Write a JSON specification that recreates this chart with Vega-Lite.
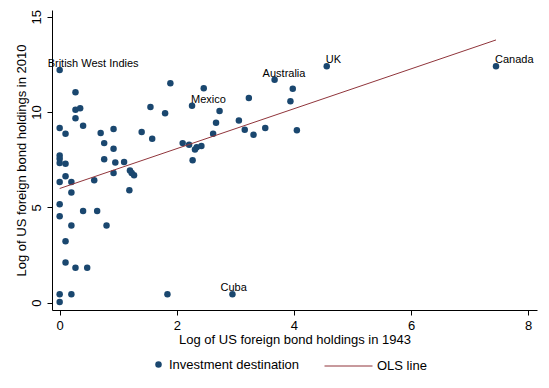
{
  "$schema": "https://vega.github.io/schema/vega-lite/v6.json",
  "width": 485,
  "height": 300,
  "autosize": {"type": "none"},
  "padding": {"left": 52, "top": 10, "right": 12, "bottom": 78},
  "background": "white",
  "config": {
    "view": {"stroke": null},
    "font": "Liberation Sans",
    "axis": {
      "domainColor": "black", "tickColor": "black", "labelColor": "black", "titleColor": "black",
      "grid": false, "tickSize": 5, "domainWidth": 1, "tickWidth": 1,
      "labelFontSize": 13, "titleFontSize": 13, "titleFontWeight": "normal", "labelFont": "Liberation Sans", "titleFont": "Liberation Sans"
    },
    "legend": {"labelFont": "Liberation Sans", "labelFontSize": 13, "labelColor": "black", "labelOffset": 4, "columnPadding": 22, "labelLimit": 400}
  },
  "datasets": {
    "points": [
      {"x": 0.00, "y": 12.21, "label": "British West Indies"},
      {"x": 1.89, "y": 11.51, "label": ""},
      {"x": 2.46, "y": 11.25, "label": ""},
      {"x": 0.27, "y": 11.04, "label": ""},
      {"x": 0.27, "y": 10.12, "label": ""},
      {"x": 0.35, "y": 10.20, "label": ""},
      {"x": 1.55, "y": 10.26, "label": ""},
      {"x": 2.26, "y": 10.33, "label": "Mexico"},
      {"x": 3.23, "y": 10.73, "label": ""},
      {"x": 3.67, "y": 11.69, "label": "Australia"},
      {"x": 2.73, "y": 10.05, "label": ""},
      {"x": 1.80, "y": 9.94, "label": ""},
      {"x": 0.27, "y": 9.68, "label": ""},
      {"x": 0.00, "y": 9.16, "label": ""},
      {"x": 0.10, "y": 8.86, "label": ""},
      {"x": 0.40, "y": 9.28, "label": ""},
      {"x": 0.70, "y": 8.90, "label": ""},
      {"x": 0.92, "y": 9.11, "label": ""},
      {"x": 0.76, "y": 8.37, "label": ""},
      {"x": 0.92, "y": 8.08, "label": ""},
      {"x": 1.40, "y": 8.95, "label": ""},
      {"x": 1.58, "y": 8.60, "label": ""},
      {"x": 2.67, "y": 9.44, "label": ""},
      {"x": 2.62, "y": 8.86, "label": ""},
      {"x": 3.06, "y": 9.56, "label": ""},
      {"x": 3.16, "y": 9.07, "label": ""},
      {"x": 3.31, "y": 8.81, "label": ""},
      {"x": 3.51, "y": 9.16, "label": ""},
      {"x": 3.94, "y": 10.57, "label": ""},
      {"x": 2.10, "y": 8.37, "label": ""},
      {"x": 2.21, "y": 8.29, "label": ""},
      {"x": 2.34, "y": 8.16, "label": ""},
      {"x": 2.42, "y": 8.22, "label": ""},
      {"x": 2.31, "y": 8.04, "label": ""},
      {"x": 0.00, "y": 7.72, "label": ""},
      {"x": 0.00, "y": 7.55, "label": ""},
      {"x": 0.00, "y": 7.33, "label": ""},
      {"x": 0.10, "y": 7.29, "label": ""},
      {"x": 0.76, "y": 7.52, "label": ""},
      {"x": 0.95, "y": 7.35, "label": ""},
      {"x": 1.10, "y": 7.38, "label": ""},
      {"x": 1.20, "y": 6.94, "label": ""},
      {"x": 1.23, "y": 6.80, "label": ""},
      {"x": 1.27, "y": 6.68, "label": ""},
      {"x": 0.92, "y": 6.80, "label": ""},
      {"x": 0.59, "y": 6.42, "label": ""},
      {"x": 0.10, "y": 6.63, "label": ""},
      {"x": 0.00, "y": 6.33, "label": ""},
      {"x": 0.20, "y": 6.33, "label": ""},
      {"x": 0.20, "y": 5.78, "label": ""},
      {"x": 1.19, "y": 5.90, "label": ""},
      {"x": 2.27, "y": 7.47, "label": ""},
      {"x": 0.00, "y": 5.16, "label": ""},
      {"x": 0.00, "y": 4.54, "label": ""},
      {"x": 0.40, "y": 4.81, "label": ""},
      {"x": 0.64, "y": 4.81, "label": ""},
      {"x": 0.20, "y": 4.05, "label": ""},
      {"x": 0.80, "y": 4.05, "label": ""},
      {"x": 0.10, "y": 3.23, "label": ""},
      {"x": 0.10, "y": 2.11, "label": ""},
      {"x": 0.27, "y": 1.83, "label": ""},
      {"x": 0.47, "y": 1.83, "label": ""},
      {"x": 0.00, "y": 0.44, "label": ""},
      {"x": 0.20, "y": 0.44, "label": ""},
      {"x": 1.84, "y": 0.44, "label": ""},
      {"x": 2.95, "y": 0.44, "label": "Cuba"},
      {"x": 0.00, "y": 0.04, "label": ""},
      {"x": 4.56, "y": 12.40, "label": "UK"},
      {"x": 3.98, "y": 11.22, "label": ""},
      {"x": 4.05, "y": 9.04, "label": ""},
      {"x": 7.45, "y": 12.40, "label": "Canada"}
    ],
    "ols": [
      {"x": 0.00, "y": 5.99},
      {"x": 7.45, "y": 13.78}
    ]
  },
  "encoding": {
    "x": {
      "field": "x", "type": "quantitative",
      "scale": {"domain": [-0.131, 8.15], "nice": false, "zero": false},
      "axis": {"values": [0, 2, 4, 6, 8], "title": "Log of US foreign bond holdings in 1943", "labelPadding": 4, "titlePadding": 1, "labelFlush": false}
    },
    "y": {
      "field": "y", "type": "quantitative",
      "scale": {"domain": [-0.38, 15.35], "nice": false, "zero": false},
      "axis": {"values": [0, 5, 10, 15], "title": "Log of US foreign bond holdings in 2010", "labelAngle": 270, "labelAlign": "center", "labelBaseline": "bottom", "labelPadding": 4, "titlePadding": 2, "labelFlush": false}
    }
  },
  "layer": [
    {
      "data": {"name": "points"},
      "mark": {"type": "point", "filled": true, "shape": "circle", "size": 42, "opacity": 1},
      "encoding": {
        "fill": {
          "datum": "Investment destination", "type": "nominal",
          "scale": {"domain": ["Investment destination"], "range": ["#1a476f"]},
          "legend": {
            "orient": "none", "legendX": 95, "legendY": 343, "direction": "horizontal", "title": null,
            "padding": 5, "symbolType": "circle", "symbolSize": 42, "symbolStrokeWidth": 0
          }
        }
      }
    },
    {
      "data": {"name": "ols"},
      "mark": {"type": "line", "strokeWidth": 1},
      "encoding": {
        "stroke": {
          "datum": "OLS line", "type": "nominal",
          "scale": {"domain": ["OLS line"], "range": ["#90353b"]},
          "legend": {
            "orient": "none", "legendX": 95, "legendY": 343, "direction": "horizontal", "title": null,
            "padding": 5, "symbolType": "stroke", "symbolSize": 2304, "symbolStrokeWidth": 1,
            "clipHeight": 16, "symbolOffset": 172,
            "encode": {"legend": {"stroke": {"value": "black"}, "strokeWidth": {"value": 1}, "strokeOpacity": {"value": 1}}}
          }
        }
      }
    },
    {
      "data": {"name": "points"},
      "transform": [{"filter": "indexof(['British West Indies','Australia','Cuba'], datum.label) >= 0"}],
      "mark": {"type": "text", "align": "left", "baseline": "middle", "dx": -12, "dy": -6, "fontSize": 11, "color": "black", "font": "Liberation Sans"},
      "encoding": {"text": {"field": "label"}}
    },
    {
      "data": {"name": "points"},
      "transform": [{"filter": "indexof(['Mexico','Canada','UK'], datum.label) >= 0"}],
      "mark": {"type": "text", "align": "left", "baseline": "middle", "dx": -1, "dy": -6, "fontSize": 11, "color": "black", "font": "Liberation Sans"},
      "encoding": {"text": {"field": "label"}}
    }
  ]
}
